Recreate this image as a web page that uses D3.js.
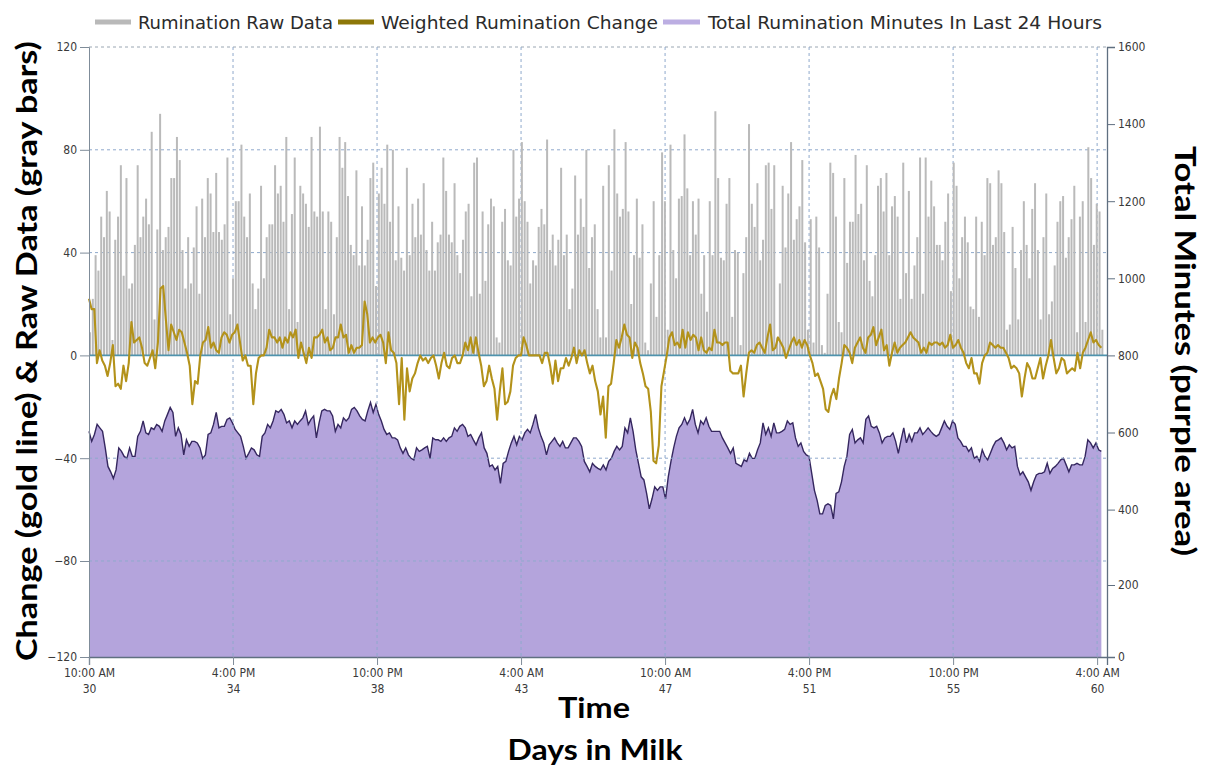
<!DOCTYPE html>
<html>
<head>
<meta charset="utf-8">
<script src="https://cdn.jsdelivr.net/npm/d3@7"></script>
<style>
  html, body { margin: 0; padding: 0; background: #ffffff; }
  svg { display: block; }
  .tick text { font-family: "DejaVu Sans Condensed", "DejaVu Sans", sans-serif; font-stretch: condensed; fill: #3a3a3a; }
</style>
</head>
<body>
<svg id="chart" width="1207" height="771"></svg>
<script>
// ---- Data -----------------------------------------------------------------
// Recording window, in hours since calving (day 30 10:00 AM .. day 60 ~3:00 AM)
const windowStartHour = 730;
const windowEndHour = 1447;

// Rumination raw data (minutes per interval) - gray bars
const rawData = [
  9,22,39,33,54,46,64,56,6,45,54,74,31,69,26,28,43,74,46,54,61,51,87,14,49,94,41,46,50,69,
  69,85,76,41,26,46,28,42,58,24,61,46,69,63,48,71,48,45,51,77,16,30,60,60,82,54,46,63,28,
  18,26,66,30,46,51,51,74,63,66,52,85,18,55,77,13,66,63,59,50,85,56,54,89,56,18,56,52,16,46,
  85,73,83,62,43,39,72,35,58,35,45,69,75,27,63,73,59,82,52,80,37,58,38,33,73,39,59,46,61,47,67,
  41,33,52,33,44,47,77,64,47,44,67,39,32,45,56,59,23,75,77,24,56,29,51,61,58,7,5,52,57,37,
  35,80,54,61,83,60,52,28,37,35,50,57,51,84,41,47,35,45,73,39,47,18,26,70,47,61,50,80,34,46,51,
  18,7,66,7,74,33,88,63,54,57,83,56,20,39,61,38,51,5,2,28,60,15,39,79,60,10,82,41,30,61,
  62,86,65,39,60,47,61,24,39,17,60,39,95,69,38,37,59,69,15,41,40,4,32,46,90,59,50,67,37,45,74,
  75,57,74,7,28,66,42,63,83,45,53,58,76,44,10,53,5,54,42,4,1,24,75,71,54,13,9,69,36,52,
  52,78,55,59,37,74,29,23,39,66,69,56,71,39,58,62,54,22,75,32,64,22,35,46,77,24,77,54,68,58,43,
  43,37,52,63,25,75,66,30,46,54,44,19,18,54,15,52,39,69,67,43,46,72,67,48,10,12,50,34,14,41,
  60,43,30,57,67,41,14,46,63,16,21,35,52,60,62,38,46,53,66,9,54,60,13,81,69,43,59,56,10
];

// Weighted rumination change - gold line
const weightedChange = [
  22,18,18,-3,2,-2,-4,-8,-3,4,-12,-11,-13,-4,-10,-3,13,5,6,7,3,-3,-4,-1,2,-5,5,26,27,14,
  2,12,9,6,10,9,5,1,-4,-19,-10,-11,0,5,6,11,3,5,2,1,7,9,8,5,8,9,12,5,-2,0,-4,
  -4,-19,-7,-1,0,0,3,10,7,7,5,7,3,7,5,9,7,10,-1,5,1,-3,3,-1,7,7,8,10,5,7,
  2,3,7,7,12,7,8,1,4,1,3,3,4,21,16,5,7,5,7,8,5,-3,9,2,1,-3,-19,-1,-25,-5,-14,-9,-7,-3,
  0,-2,-1,-3,-1,0,-4,-9,-3,1,-4,-5,-1,0,-3,-3,0,5,2,7,1,7,1,-4,-12,-10,-4,-9,-13,-25,
  -14,-5,-19,-18,-14,-4,-1,0,0,7,4,0,0,0,0,0,-3,1,1,-4,-11,-2,-10,-5,-5,-1,-4,-1,3,-3,2,0,2,-3,-7,-4,
  -10,-14,-23,-16,-32,-12,-11,-3,6,3,7,12,8,7,-1,5,3,-3,-7,-12,-13,-22,-41,-42,-35,-12,-6,0,7,9,
  4,5,3,10,3,9,6,8,7,2,7,2,1,3,2,10,5,5,4,5,5,-6,-7,-7,-7,-4,-16,-7,1,2,1,4,5,3,1,
  7,12,2,3,7,5,3,-1,2,5,7,4,6,3,6,4,0,-3,-8,-7,-10,-13,-21,-22,-16,-13,-17,-9,-3,4,
  3,1,-3,3,5,7,3,1,7,8,11,4,7,10,2,4,-4,1,5,1,3,4,5,7,9,7,6,5,1,3,1,5,4,5,5,
  4,5,3,4,8,3,4,6,3,1,-3,-5,-1,-7,-7,-11,-3,0,1,5,4,3,4,3,3,1,-1,-5,-4,-5,
  -7,-16,-9,-3,-5,-9,-9,-5,-1,-9,-4,0,6,-1,-7,-5,-1,-2,-7,-6,-5,-6,1,-5,1,3,6,9,5,6,4,3
];

// Total rumination minutes in the last 24 hours - purple area
const totalMinutes = [
  603,577,595,621,612,603,560,512,498,481,503,560,551,538,533,560,538,538,590,603,
  630,599,595,612,608,621,616,603,630,647,665,652,590,612,595,542,581,564,577,577,
  573,560,533,542,595,599,621,652,612,616,616,634,638,625,608,599,590,564,
  533,546,560,555,542,538,590,599,621,612,630,656,652,660,647,625,630,612,630,621,
  630,638,656,621,634,643,586,625,656,660,656,656,643,603,621,612,638,630,638,660,
  665,656,643,634,630,656,678,652,673,647,630,608,595,599,586,586,581,560,546,560,542,533,
  529,560,551,555,560,564,533,586,581,581,577,586,577,586,590,612,603,616,621,612,
  590,595,581,568,586,599,560,546,512,516,503,512,468,520,525,551,573,590,568,590,
  581,599,608,599,621,647,612,590,573,542,568,577,586,573,564,577,560,560,573,586,586,577,564,525,512,
  498,520,512,507,503,516,503,525,533,551,564,555,564,612,599,638,603,555,520,485,
  477,442,402,428,459,450,459,459,428,485,525,560,590,612,621,638,621,634,660,621,
  599,630,621,638,616,603,603,603,603,586,573,560,546,560,520,516,512,529,525,546,533,533,555,573,
  625,595,612,590,625,599,599,603,608,630,621,625,586,564,573,551,542,538,494,450,
  424,389,389,411,415,411,376,442,446,472,512,538,595,608,573,581,586,573,634,643,
  616,612,616,599,573,586,590,590,599,577,546,581,612,573,595,577,599,599,612,595,603,612,603,595,
  590,595,612,630,616,608,630,621,586,577,564,564,551,560,533,538,525,555,538,529,
  546,564,577,581,586,573,555,568,560,564,512,490,498,485,472,450,472,490,494,494,
  498,520,494,507,512,520,529,533,516,498,516,516,520,516,516,538,581,573,560,573,555,551
];

// Axis labels
const tickTimes = ["10:00 AM", "4:00 PM", "10:00 PM", "4:00 AM", "10:00 AM", "4:00 PM", "10:00 PM", "4:00 AM"];
const tickDays = [30, 34, 38, 43, 47, 51, 55, 60];
const leftTicks = [-120, -80, -40, 0, 40, 80, 120];
const rightTicks = [0, 200, 400, 600, 800, 1000, 1200, 1400, 1600];
const seriesNames = ["Rumination Raw Data", "Weighted Rumination Change", "Total Rumination Minutes In Last 24 Hours"];

// ---- Layout ---------------------------------------------------------------
const plot = { left: 89, right: 1107, top: 47, bottom: 657 };
const tickHours = tickDays.map((d, i) => windowStartHour + i * 102);

const svg = d3.select("#chart");

const x = d3.scaleLinear().domain([windowStartHour, 1451]).range([plot.left, plot.right]);
// Both value axes share the same vertical frame; the lowest band is drawn slightly tighter
const yL = d3.scaleLinear().domain([-120, -80, 120]).range([plot.bottom, 561, plot.top]);
const yR = d3.scaleLinear().domain([0, 1600 * 40 / 240, 1600]).range([plot.bottom, 561, plot.top]);

const timeOf = n => i => windowStartHour + i * (windowEndHour - windowStartHour) / (n - 1);
const tRaw = timeOf(rawData.length);
const tChg = timeOf(weightedChange.length);
const tTot = timeOf(totalMinutes.length);

// ---- Purple area ----------------------------------------------------------
const area = d3.area()
  .x((d, i) => x(tTot(i)))
  .y0(yR(0))
  .y1(d => yR(d));
svg.append("path")
  .datum(totalMinutes)
  .attr("d", area)
  .attr("fill", "#b4a4dc");
svg.append("path")
  .datum(totalMinutes)
  .attr("d", d3.line().x((d, i) => x(tTot(i))).y(d => yR(d)))
  .attr("fill", "none")
  .attr("stroke", "#35275f")
  .attr("stroke-width", 1.4);

// ---- Grid -----------------------------------------------------------------
const grid = svg.append("g").attr("stroke", "#8fa9cc").attr("stroke-width", 1).attr("stroke-dasharray", "3,3").attr("fill", "none");
grid.selectAll("line.h")
  .data(leftTicks.filter(v => v !== 0 && v !== -120))
  .join("line")
  .attr("x1", plot.left).attr("x2", plot.right)
  .attr("y1", d => yL(d)).attr("y2", d => yL(d))
  .attr("stroke", d => d === 120 ? "#9aa6b2" : null);
grid.selectAll("line.v")
  .data(tickHours.slice(1))
  .join("line")
  .attr("x1", d => x(d)).attr("x2", d => x(d))
  .attr("y1", plot.top).attr("y2", plot.bottom);

// ---- Gray bars ------------------------------------------------------------
svg.append("g")
  .selectAll("rect")
  .data(rawData)
  .join("rect")
  .attr("x", (d, i) => x(tRaw(i)))
  .attr("width", 2.0)
  .attr("y", d => yL(d))
  .attr("height", d => yL(0) - yL(d))
  .attr("fill", "#bababa");

// Zero line
svg.append("line")
  .attr("x1", plot.left).attr("x2", plot.right)
  .attr("y1", yL(0)).attr("y2", yL(0))
  .attr("stroke", "#4f93ad").attr("stroke-width", 1.6);

// ---- Gold line ------------------------------------------------------------
svg.append("path")
  .datum(weightedChange)
  .attr("d", d3.line().x((d, i) => x(tChg(i))).y(d => yL(d)))
  .attr("fill", "none")
  .attr("stroke", "#b3921a")
  .attr("stroke-width", 2.1)
  .attr("stroke-linejoin", "round");

// ---- Axes -----------------------------------------------------------------
const axisColor = "#7f8c99";

const gLeft = svg.append("g").attr("transform", `translate(${plot.left},0)`)
  .call(d3.axisLeft(yL).tickValues(leftTicks).tickSize(9).tickPadding(3).tickFormat(d3.format("d")));
gLeft.select(".domain").attr("stroke", axisColor);
gLeft.selectAll(".tick line").attr("stroke", axisColor);
gLeft.selectAll(".tick text").attr("font-size", 12);

const gRight = svg.append("g").attr("transform", `translate(${plot.right},0)`)
  .call(d3.axisRight(yR).tickValues(rightTicks).tickSize(8).tickPadding(3).tickFormat(d3.format("d")));
gRight.select(".domain").attr("stroke", "#5f6f80").attr("stroke-width", 1.3);
gRight.selectAll(".tick line").attr("stroke", "#5f6f80");
gRight.selectAll(".tick text").attr("font-size", 12);

const gBottom = svg.append("g").attr("transform", `translate(0,${plot.bottom})`)
  .call(d3.axisBottom(x).tickValues(tickHours).tickSize(8).tickPadding(3).tickFormat(() => ""));
gBottom.select(".domain").attr("stroke", "#5f6f80").attr("stroke-width", 1.3);
gBottom.selectAll(".tick line").attr("stroke", axisColor);
gBottom.selectAll(".tick text").each(function (d, i) {
  const t = d3.select(this).attr("font-size", 12);
  t.append("tspan").attr("x", 0).attr("dy", "0.71em").text(tickTimes[i]);
  t.append("tspan").attr("x", 0).attr("dy", "1.4em").text(tickDays[i]);
});

// ---- Legend ---------------------------------------------------------------
const legend = svg.append("g").attr("font-family", "\"DejaVu Sans Condensed\", \"DejaVu Sans\", sans-serif")
  .attr("font-stretch", "condensed").attr("font-size", 18).attr("fill", "#2b2b2b");
const legendItems = [
  { name: seriesNames[0], color: "#b9b9b9", x0: 95, x1: 131, tx: 138, tw: 195 },
  { name: seriesNames[1], color: "#8d7708", x0: 338, x1: 374, tx: 381, tw: 277 },
  { name: seriesNames[2], color: "#bcaee2", x0: 663, x1: 700, tx: 708, tw: 394 }
];
legendItems.forEach(it => {
  legend.append("line").attr("x1", it.x0).attr("x2", it.x1).attr("y1", 22).attr("y2", 22)
    .attr("stroke", it.color).attr("stroke-width", 5);
  legend.append("text").attr("x", it.tx).attr("y", 29)
    .attr("textLength", it.tw).attr("lengthAdjust", "spacingAndGlyphs").text(it.name);
});

// ---- Axis titles ----------------------------------------------------------
const titleFont = "Lato, \"Open Sans\", sans-serif";
svg.append("text")
  .attr("transform", "translate(37,351) rotate(-90)")
  .attr("text-anchor", "middle")
  .attr("font-family", titleFont).attr("font-weight", 700).attr("font-size", 29)
  .attr("textLength", 620).attr("lengthAdjust", "spacingAndGlyphs")
  .attr("fill", "#000")
  .text("Change (gold line) & Raw Data (gray bars)");

svg.append("text")
  .attr("transform", "translate(1175,351) rotate(90)")
  .attr("text-anchor", "middle")
  .attr("font-family", titleFont).attr("font-weight", 700).attr("font-size", 29)
  .attr("textLength", 410).attr("lengthAdjust", "spacingAndGlyphs")
  .attr("fill", "#000")
  .text("Total Minutes (purple area)");

svg.append("text")
  .attr("x", 594).attr("y", 718)
  .attr("text-anchor", "middle")
  .attr("font-family", titleFont).attr("font-weight", 700).attr("font-size", 29)
  .attr("textLength", 72).attr("lengthAdjust", "spacingAndGlyphs")
  .attr("fill", "#000")
  .text("Time");

svg.append("text")
  .attr("x", 595).attr("y", 760)
  .attr("text-anchor", "middle")
  .attr("font-family", titleFont).attr("font-weight", 700).attr("font-size", 29)
  .attr("textLength", 175).attr("lengthAdjust", "spacingAndGlyphs")
  .attr("fill", "#000")
  .text("Days in Milk");
</script>
</body>
</html>
